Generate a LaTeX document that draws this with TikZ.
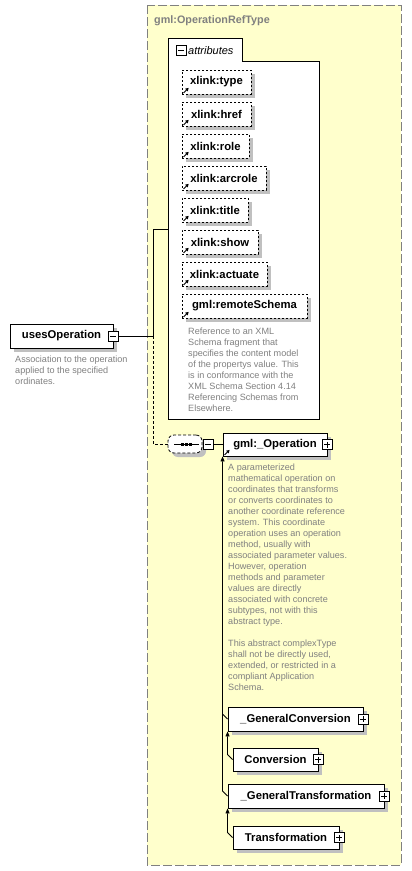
\documentclass[tikz,border=0pt]{standalone}
\usepackage{fontspec}
\setmainfont{Liberation Sans}
\usetikzlibrary{shadows,arrows.meta}
\definecolor{bgyellow}{RGB}{255,255,204}
\definecolor{txtgray}{RGB}{128,128,128}
\definecolor{shgray}{RGB}{192,192,192}
\newcommand\lnkglyph[1]{\draw[line width=1pt,-{Triangle[width=3.5pt,length=3pt]}] ([shift={(2pt,1.5pt)}]#1.south west) -- ++(5pt,5pt);}
\begin{document}
\begin{tikzpicture}[x=1pt,y=-1pt,
 shad/.style={general shadow={shadow xshift=4pt,shadow yshift=-4pt,fill=shgray}},
 elem/.style={draw,fill=white,line width=0.9pt,minimum height=24pt,inner sep=0pt,font=\fontsize{11.3}{13}\selectfont\bfseries,shad},
 attr/.style={elem,dash pattern=on 2pt off 2pt,line width=0.8pt},
 desc/.style={anchor=north west,inner sep=0pt,align=left,text=txtgray,font=\fontsize{9.1}{11}\selectfont},
 pmbox/.style={draw,fill=white,minimum size=10pt,inner sep=0pt,line width=0.7pt},
 minusbox/.style={pmbox,path picture={\draw[line width=0.7pt] ([xshift=2pt]path picture bounding box.west) -- ([xshift=-2pt]path picture bounding box.east);}},
 plusbox/.style={pmbox,path picture={\draw[line width=0.7pt] ([xshift=2pt]path picture bounding box.west) -- ([xshift=-2pt]path picture bounding box.east) ([yshift=-2pt]path picture bounding box.north) -- ([yshift=2pt]path picture bounding box.south);}},
 conn/.style={line width=0.8pt},
 inh/.style={line width=0.8pt,-{Triangle[width=4pt,length=5pt]}},
]
\useasboundingbox (0,0) rectangle (412,871);
% outer complex type box
\draw[dash pattern=on 9pt off 3pt,draw=txtgray,fill=bgyellow,line width=1pt] (147,5) rectangle (401,865);
\node[anchor=base west,inner sep=0pt,text=txtgray,font=\fontsize{10.8}{13}\selectfont\bfseries] (title) at (154,23) {gml:OperationRefType};
% attributes group
\draw[fill=white,line width=0.9pt] (168,38) -- (242,38) -- (242,61) -- (319,61) -- (319,419) -- (168,419) -- cycle;
\node[minusbox] (attrm) at (181,50) {};
\node[anchor=base west,inner sep=0pt,font=\fontsize{11}{13}\selectfont\itshape] (attrt) at (188,54) {attributes};
\coordinate (attrL) at (168,229);
\node[attr,minimum width=69pt] (a1) at (216.5,82) {xlink:type};
\node[attr,minimum width=69pt] (a2) at (216.5,114) {xlink:href};
\node[attr,minimum width=67pt] (a3) at (215.5,146) {xlink:role};
\node[attr,minimum width=84pt] (a4) at (224,178) {xlink:arcrole};
\node[attr,minimum width=66pt] (a5) at (215,210) {xlink:title};
\node[attr,minimum width=76pt] (a6) at (220,242) {xlink:show};
\node[attr,minimum width=85pt] (a7) at (224.5,274) {xlink:actuate};
\node[attr,minimum width=125pt] (a8) at (244.5,306) {gml:remoteSchema};
\foreach \n in {a1,a2,a3,a4,a5,a6,a7,a8} {\lnkglyph{\n}}
\node[desc] (a8d) at (188,328) {Reference to an XML\\Schema fragment that\\specifies the content model\\of the propertys value. This\\is in conformance with the\\XML Schema Section 4.14\\Referencing Schemas from\\Elsewhere.};
% usesOperation
\node[elem,minimum width=103pt] (uses) at (61.5,336) {usesOperation};
\node[minusbox] (um) at (uses.east) {};
\node[desc] (usesd) at (15,356) {Association to the operation\\applied to the specified\\ordinates.};
\coordinate (junction) at (153,336);
\draw[conn] (um.east) -- (junction) |- (attrL);
% sequence
\node[draw,fill=white,dash pattern=on 3pt off 2pt,line width=0.8pt,rounded corners=6pt,minimum width=34pt,minimum height=18pt,shad] (seq) at (185,444) {};
\draw[line width=1pt] (174,444) -- (199,444);
\foreach \xx in {182,186,190} {\fill ([shift={(-1.5pt,-1.5pt)}]\xx,444) rectangle ++(3pt,3pt);}
\draw[conn,dash pattern=on 3pt off 2pt] (junction) |- (seq.west);
\node[pmbox,minimum size=9pt,minusbox] (seqm) at (208,444.5) {};
% gml:_Operation
\node[elem,minimum width=104pt,minimum height=23pt] (op) at (275,444.5) {gml:\_Operation};
\node[plusbox] (opp) at (op.east) {};
\lnkglyph{op}
\draw[conn] (seqm.east) -- (op.west);
\node[desc] (opd) at (228,464) {A parameterized\\mathematical operation on\\coordinates that transforms\\or converts coordinates to\\another coordinate reference\\system. This coordinate\\operation uses an operation\\method, usually with\\associated parameter values.\\However, operation\\methods and parameter\\values are directly\\associated with concrete\\subtypes, not with this\\abstract type.\\[11pt]This abstract complexType\\shall not be directly used,\\extended, or restricted in a\\compliant Application\\Schema.};
% derived types
\node[elem,minimum width=135pt] (gc) at (295.5,719) {\_GeneralConversion};
\node[plusbox] (gcp) at (gc.east) {};
\node[elem,minimum width=85pt,minimum height=23pt] (conv) at (275.5,759.5) {Conversion};
\node[plusbox] (convp) at (conv.east) {};
\node[elem,minimum width=156pt] (gt) at (306,796) {\_GeneralTransformation};
\node[plusbox] (gtp) at (gt.east) {};
\node[elem,minimum width=106pt,minimum height=23pt] (tr) at (286,837.5) {Transformation};
\node[plusbox] (trp) at (tr.east) {};
\draw[inh] (gt.west) -- ++(-5,-5) -- (op.south west);
\draw[conn] (gc.west) -- ++(-5,-5);
\draw[inh] (conv.west) -- ++(-5,-5) -- (gc.south west);
\draw[inh] (tr.west) -- ++(-5,-5) -- (gt.south west);
\end{tikzpicture}
\end{document}
